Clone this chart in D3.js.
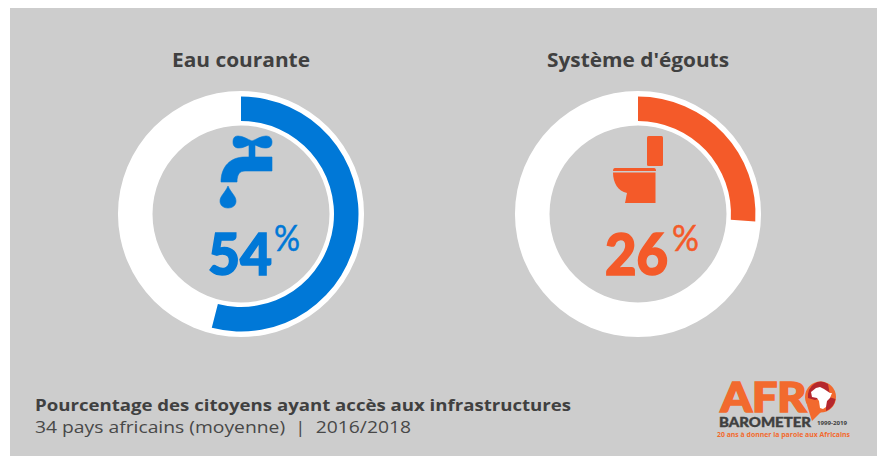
<!DOCTYPE html>
<html><head><meta charset="utf-8">
<script src="https://cdn.jsdelivr.net/npm/d3@7"></script>
<style>html,body{margin:0;padding:0;background:#fff}svg{display:block}text{font-family:"Open Sans",sans-serif}</style>
</head><body><svg id="c" width="877" height="456"></svg>
<script>
const categories = ["Eau courante", "Système d'égouts"];
const values = [54, 26];
const colors = ["#0078d7", "#f45a29"];
const titleLine = "Pourcentage des citoyens ayant accès aux infrastructures";
const subLine = "34 pays africains (moyenne)  |  2016/2018";
const svg = d3.select("#c");
svg.append("rect").attr("x",10).attr("y",8).attr("width",867).attr("height",448).attr("fill","#cdcdcd");
const angle = d3.scaleLinear().domain([0,100]).range([0,2*Math.PI]);
const centers = d3.scalePoint().domain(categories).range([241,638]);
const ring = d3.arc().innerRadius(88.5).outerRadius(123);
const fg = d3.arc().innerRadius(93).outerRadius(117.5);
const titleX = [[172,138],[547,182]];
const bigX = [[208,64],[605,63]];
const pctX = [[274,26],[672,27]];
categories.forEach((c,i)=>{
  const g = svg.append("g").attr("transform",`translate(${centers(c)},214)`);
  g.append("path").attr("d",ring({startAngle:0,endAngle:2*Math.PI})).attr("fill","#fff");
  g.append("path").attr("d",fg({startAngle:0,endAngle:angle(values[i])})).attr("fill",colors[i]);
  svg.append("text").attr("x",titleX[i][0]).attr("y",67).attr("font-size",20).attr("font-weight",700).attr("fill","#404040")
    .attr("textLength",titleX[i][1]).attr("lengthAdjust","spacingAndGlyphs").text(c);
  svg.append("text").attr("x",bigX[i][0]).attr("y",275).attr("font-size",58).attr("font-weight",900).style("font-family","Lato")
    .attr("fill",colors[i]).attr("stroke",colors[i]).attr("stroke-width",1.6)
    .attr("textLength",bigX[i][1]).attr("lengthAdjust","spacingAndGlyphs").text(values[i]);
  svg.append("text").attr("x",pctX[i][0]).attr("y",251).attr("font-size",37).attr("font-weight",400).style("font-family","Lato")
    .attr("fill",colors[i]).attr("stroke",colors[i]).attr("stroke-width",0.5)
    .attr("textLength",pctX[i][1]).attr("lengthAdjust","spacingAndGlyphs").text("%");
});
const tap = svg.append("g").attr("fill",colors[0]).attr("stroke",colors[0]).attr("stroke-width",0.6);
tap.append("path").attr("d","M252,141 C247,139 243,136 238,136 C234,136 233,139 233,142 C233,146 235,148 239,148 C243,148 246,146 249,145 L249,157 L255,157 L255,145 C258,146 261,148 265,148 C270,148 272,146 272,142 C272,139 270,136 266,136 C261,136 257,139 252,141 Z");
tap.append("path").attr("d","M272,157 L272,171 L245,171 C240,171 237,174 237,182 L221,182 C221,167 230,157 245,157 Z");
tap.append("path").attr("d","M228,186 C231,193 236,196 236,201 C236,205 233,208 228,208 C223,208 220,205 220,201 C220,196 225,193 228,186 Z");
const wc = svg.append("g").attr("fill",colors[1]);
wc.append("rect").attr("x",647).attr("y",136).attr("width",16).attr("height",30).attr("rx",1.5);
wc.append("path").attr("d","M615,168 L654,168 Q656,168 656,171 L613,171 Q613,168 615,168 Z");
wc.append("path").attr("d","M613,172.5 L655.5,172.5 L655.5,203 L625,203 C626,199 626,197 627,193 C618,191 613,183 613,172.5 Z");
svg.append("text").attr("x",35).attr("y",411).attr("font-size",16.5).attr("font-weight",700).attr("fill","#404040")
  .attr("textLength",536).attr("lengthAdjust","spacingAndGlyphs").text(titleLine);
svg.append("text").attr("x",35).attr("y",433).attr("font-size",16.5).attr("font-weight",400).attr("fill","#484848")
  .attr("textLength",376).attr("lengthAdjust","spacingAndGlyphs").style("white-space","pre").text(subLine);
// logo
const logo = svg.append("g");
logo.append("circle").attr("cx",820.5).attr("cy",397).attr("r",15.5).attr("fill","#f26a2e");
logo.append("path").attr("d","M808,398 A13,15 0 0 1 828,384 L830,395 L815,400 Z").attr("fill","#b5272d");
logo.append("path").attr("d","M835.5,399 A15.5,15.5 0 0 1 826,411 L826,402 L829,397 Z").attr("fill","#b5272d");
logo.append("path").attr("d","M807,405 L812,421 L822,411 Z").attr("fill","#f26a2e");
logo.append("path").attr("d","M811,392 L816,388 L820,387 L824,389 L830,393 L832,393 L830,398 L827,401 L826,407 L823,409 L820,408 L819,401 L817,398 L812,397 Z").attr("fill","#fff");
logo.append("text").attr("x",720.5).attr("y",411.5).attr("font-size",41).attr("font-weight",900).style("font-family","Lato")
  .attr("fill","#f26a2e").attr("stroke","#f26a2e").attr("stroke-width",1.6).attr("textLength",86).attr("lengthAdjust","spacingAndGlyphs").text("AFR");
logo.append("text").attr("x",719).attr("y",427).attr("font-size",14).attr("font-weight",900).style("font-family","Lato")
  .attr("fill","#404040").attr("stroke","#404040").attr("stroke-width",0.4).attr("textLength",92).attr("lengthAdjust","spacingAndGlyphs").text("BAROMETER");
logo.append("text").attr("x",817).attr("y",425).attr("font-size",5).attr("font-weight",700).attr("fill","#404040").attr("textLength",30).attr("lengthAdjust","spacingAndGlyphs").text("1999-2019");
logo.append("text").attr("x",717).attr("y",437).attr("font-size",6.5).attr("font-weight",700).attr("fill","#f26a2e").attr("textLength",133).attr("lengthAdjust","spacingAndGlyphs").text("20 ans à donner la parole aux Africains");
</script></body></html>
